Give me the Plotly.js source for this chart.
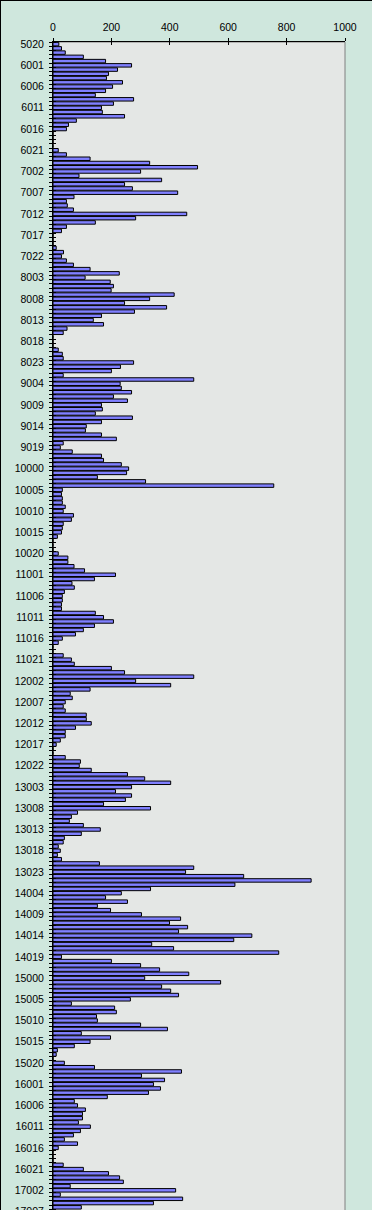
<!DOCTYPE html>
<html><head><meta charset="utf-8">
<script src="https://cdn.plot.ly/plotly-3.0.1.min.js"></script>
<style>
html,body{margin:0;padding:0;overflow:hidden;background:#cfe7dd}
#wrap{position:relative;width:372px;height:1210px;overflow:hidden}
#chart{width:372px;height:1240px}
#frame{position:absolute;left:0;top:0;width:372px;height:1240px;border-left:1px solid #000;border-top:1px solid #000;box-sizing:border-box;pointer-events:none}
</style></head><body>
<div id="wrap"><div id="chart"></div><div id="frame"></div></div>
<script>
// Category codes: day + "0" + two-digit hour (e.g. 5020 = day 5, hour 20)
const days = [5, 6, 7, 8, 9, 10, 11, 12, 13, 14, 15, 16, 17];
const firstHour = {5: 20};
// values per day (hour order)
const v05 = [20, 29, 42, 104];
const v06 = [180, 269, 221, 190, 183, 238, 204, 180, 145, 276, 207, 166, 169, 245, 80, 53, 46, 0, 0, 0, 0, 18, 46, 127];
const v07 = [331, 495, 300, 89, 372, 245, 272, 427, 72, 46, 49, 70, 458, 283, 145, 46, 29, 0, 0, 0, 11, 36, 29, 46];
const v08 = [70, 127, 227, 110, 196, 207, 199, 415, 331, 245, 389, 279, 166, 138, 173, 48, 35, 0, 0, 0, 18, 32, 35, 276];
const v09 = [231, 200, 35, 482, 230, 234, 269, 207, 255, 166, 169, 145, 272, 166, 114, 111, 166, 217, 35, 25, 66, 166, 173, 234];
const v10 = [259, 252, 152, 317, 756, 32, 29, 32, 32, 42, 35, 70, 63, 35, 32, 29, 15, 0, 0, 0, 18, 51, 51, 72];
const v11 = [108, 214, 142, 65, 73, 39, 32, 32, 29, 29, 145, 173, 207, 142, 104, 77, 32, 18, 0, 0, 35, 63, 73, 200];
const v12 = [245, 482, 283, 403, 127, 59, 66, 42, 35, 42, 114, 114, 131, 77, 42, 42, 25, 11, 0, 0, 42, 94, 90, 131];
const v13 = [255, 314, 403, 269, 214, 269, 248, 173, 334, 84, 63, 56, 104, 162, 97, 39, 35, 18, 25, 15, 29, 159, 482, 454];
const v14 = [653, 884, 623, 334, 234, 180, 255, 152, 197, 303, 437, 399, 461, 430, 681, 619, 338, 413, 773, 29, 200, 300, 365, 465];
const v15 = [314, 574, 372, 403, 430, 265, 63, 211, 217, 149, 152, 300, 392, 97, 197, 127, 73, 15, 11, 0, 39, 142, 440, 303];
const v16 = [382, 344, 368, 327, 186, 73, 84, 111, 101, 101, 87, 128, 94, 70, 39, 84, 18, 0, 0, 0, 35, 104, 190, 228];
const v17 = [241, 59, 420, 25, 444, 344, 97, null];
const xTicks = [0, 200, 400, 600, 800, 1000];
const labelEvery = 5;

const perDay = {5: v05, 6: v06, 7: v07, 8: v08, 9: v09, 10: v10, 11: v11, 12: v12, 13: v13, 14: v14, 15: v15, 16: v16, 17: v17};
const categories = [], values = [];
days.forEach(d => {
  const h0 = firstHour[d] || 0;
  perDay[d].forEach((v, k) => {
    const h = h0 + k;
    categories.push(String(d) + '0' + (h < 10 ? '0' : '') + h);
    values.push(v);
  });
});
const pos = categories.map((c, i) => i);
const tickPos = pos.filter(i => i % labelEvery === 0);
const tickText = tickPos.map(i => categories[i]);

const font = {family: 'Liberation Sans, Arial, sans-serif', size: 10.5, color: '#000'};
const yRange = [281.7, -0.5];

const data = [
  {type: 'bar', orientation: 'h', x: values, y: pos, xaxis: 'x', yaxis: 'y',
   marker: {color: '#8080ff', line: {color: '#000', width: 1}}, hoverinfo: 'skip'},
  {type: 'scatter', mode: 'markers', x: [], y: [], xaxis: 'x2', yaxis: 'y2', hoverinfo: 'skip', showlegend: false}
];

const layout = {
  width: 372, height: 1240,
  margin: {l: 53, r: 27, t: 42, b: 0, pad: 0},
  paper_bgcolor: '#cfe7dd', plot_bgcolor: '#e4e7e5',
  showlegend: false, bargap: 0.18, font: font,
  xaxis: {side: 'top', range: [0, 1000], tickmode: 'array', tickvals: xTicks,
          ticks: 'outside', ticklen: 3, tickcolor: '#000', tickwidth: 1,
          showline: true, linecolor: '#000', linewidth: 1, mirror: false,
          showgrid: false, zeroline: false, tickfont: font, ticklabelstandoff: 3, fixedrange: true},
  xaxis2: {overlaying: 'x', side: 'top', anchor: 'y2', range: [0, 1000], tickmode: 'array', tickvals: xTicks,
           ticks: 'inside', ticklen: 3, tickcolor: '#000', showticklabels: false,
           showline: false, showgrid: false, zeroline: false, fixedrange: true},
  yaxis: {range: yRange, tickmode: 'array', tickvals: tickPos, ticktext: tickText, ticks: '',
          showline: true, linecolor: '#000', linewidth: 1, showgrid: false, zeroline: false,
          tickfont: font, ticklabelstandoff: 6, fixedrange: true,
          minor: {tickmode: 'linear', tick0: -0.5, dtick: 1, ticks: 'outside', ticklen: 3, tickcolor: '#000', tickwidth: 1, showgrid: false}},
  yaxis2: {overlaying: 'y', anchor: 'x2', side: 'left', range: yRange, showticklabels: false, ticks: '',
           tickmode: 'array', tickvals: tickPos,
           showline: false, showgrid: false, zeroline: false, fixedrange: true,
           minor: {tickmode: 'linear', tick0: -0.5, dtick: 1, ticks: 'inside', ticklen: 3, tickcolor: '#000', tickwidth: 1, showgrid: false}},
  shapes: [{type: 'rect', xref: 'paper', yref: 'paper', x0: 0, x1: 1, y0: 0, y1: 1,
            line: {color: '#808080', width: 1}, fillcolor: 'rgba(0,0,0,0)', layer: 'below'}]
};

Plotly.newPlot('chart', data, layout, {staticPlot: true, displayModeBar: false});
</script>
</body></html>
